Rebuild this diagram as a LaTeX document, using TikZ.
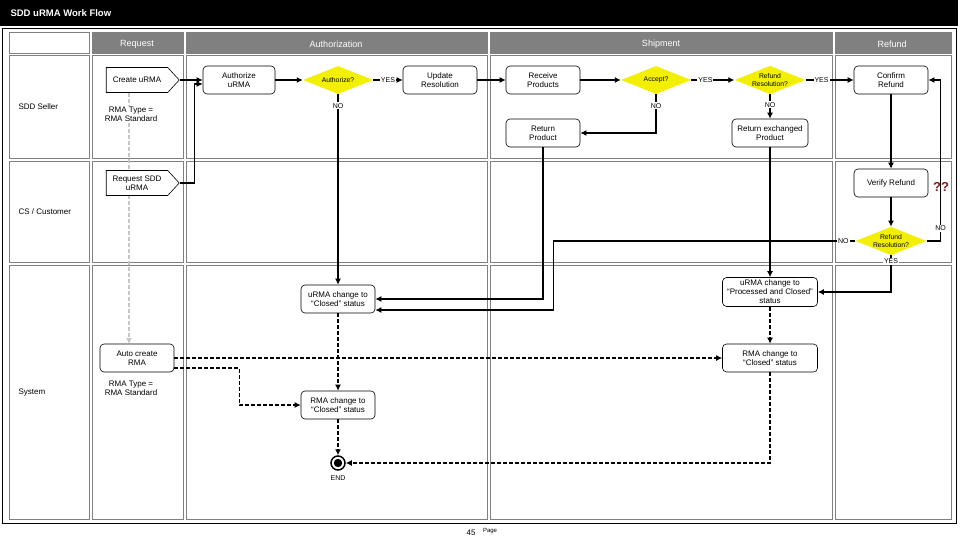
\documentclass[tikz,border=0pt]{standalone}
\usepackage{fontspec}
\setmainfont{Liberation Sans}
\usetikzlibrary{shapes.geometric,shapes.symbols,arrows.meta}
\definecolor{hdrgray}{HTML}{808080}
\definecolor{decyellow}{HTML}{F2F000}
\definecolor{qmark}{HTML}{7F1F1F}

\begin{document}
\begin{tikzpicture}[x=1pt,y=-1pt,
  every node/.style={font=\fontsize{8}{9}\selectfont},
  task/.style={draw,rounded corners=4pt,fill=white,line width=0.6pt,minimum width=74pt,minimum height=28pt,align=center,inner sep=1pt},
  entry/.style={draw,signal,signal to=east,signal pointer angle=95,fill=white,line width=0.6pt,minimum width=73pt,minimum height=25pt,align=center,inner sep=1pt},
  decision/.style={diamond,aspect=2.5,fill=decyellow,minimum width=70pt,minimum height=28pt,inner sep=0.5pt,align=center,font=\fontsize{6.8}{7.6}\selectfont},
  lbl/.style={fill=white,inner sep=1pt,font=\fontsize{7}{8}\selectfont},
  flow/.style={line width=1.4pt,-{Latex[length=6pt,width=6pt]}},
  dflow/.style={flow,dash pattern=on 4pt off 2pt},
  hint/.style={line width=1.4pt,gray!45,dash pattern=on 4pt off 2pt,-{Latex[length=6pt,width=6pt]}},
  cell/.style={draw=hdrgray,line width=0.6pt},
  hdr/.style={cell,fill=hdrgray},
  hdrtext/.style={text=white,font=\fontsize{9}{10}\selectfont}]
\useasboundingbox (0,0) rectangle (960,540);
% title bar and frame
\fill[black] (0,0) rectangle (958,26);
\node[anchor=west,text=white,font=\bfseries\fontsize{9.5}{11}\selectfont] (title) at (7,13) {SDD uRMA Work Flow};
\draw[line width=0.8pt] (2,28) rectangle (956,523);
% swimlane grid
\draw[cell] (9,32) rectangle (89,53);
\foreach \xa/\xb in {92/183,186/487,490/832,835/951}
  \draw[hdr] (\xa,32) rectangle (\xb,53);
\foreach \xa/\xb in {9/89,92/183,186/487,490/832,835/951}
  \foreach \ya/\yb in {55/158,161/262,265/519}
    \draw[cell] (\xa,\ya) rectangle (\xb,\yb);
\node[hdrtext] (hreq) at (137,44) {Request};
\node[hdrtext] (hauth) at (336,44) {Authorization};
\node[hdrtext] (hship) at (661,44) {Shipment};
\node[hdrtext] (hrefund) at (892,44) {Refund};
\node[anchor=west] (seller) at (15,107) {SDD Seller};
\node[anchor=west] (customer) at (15,212) {CS / Customer};
\node[anchor=west] (system) at (15,393) {System};

% nodes
\draw[hint] (129,93) -- (129,344);
\node[entry] (create) at (137,80) {Create uRMA};
\node[fill=white,align=center,inner sep=1pt] (typea) at (131,114) {RMA Type =\\RMA Standard};
\node[entry] (request) at (137,183) {Request SDD\\uRMA};
\node[task,minimum width=72pt] (authz) at (239,80) {Authorize\\uRMA};
\node[decision] (authq) at (338,80) {Authorize?};
\node[task] (update) at (440,80) {Update\\Resolution};
\node[task] (receive) at (543,80) {Receive\\Products};
\node[decision] (accept) at (656,80) {Accept?};
\node[decision] (refq) at (770,80) {Refund\\Resolution?};
\node[task] (confirm) at (891,80) {Confirm\\Refund};
\node[task] (retprod) at (543,133) {Return\\Product};
\node[task,minimum width=76pt] (retexch) at (770,133) {Return exchanged\\Product};
\node[task] (verify) at (891,183) {Verify Refund};
\node[text=qmark,font=\bfseries\fontsize{13}{14}\selectfont] (qq) at (941,187) {??};
\node[decision] (refq2) at (891,241) {Refund\\Resolution?};
\node[task] (urmaclosed) at (338,299) {uRMA change to\\``Closed'' status};
\node[task,minimum width=95pt,minimum height=29pt] (procd) at (770,292) {uRMA change to\\``Processed and Closed''\\status};
\node[task] (autocreate) at (137,358) {Auto create\\RMA};
\node[align=center,inner sep=1pt] (typeb) at (131,388) {RMA Type =\\RMA Standard};
\node[task,minimum width=95pt] (rmaclosed2) at (770,358) {RMA change to\\``Closed'' status};
\node[task] (rmaclosed) at (338,405) {RMA change to\\``Closed'' status};
\node[circle,draw,line width=1.5pt,minimum size=14pt,inner sep=0pt,fill=white,
  path picture={\fill[black] (path picture bounding box.center) circle (4.2pt);}] (finish) at (338,463) {};
\node[font=\fontsize{7}{8}\selectfont] (finishlbl) at (338,478) {END};

% connectors
\draw[flow] (create.east) -- (authz.west);
\draw[flow] (request.east) -- ++(15,0) |- ([yshift=-4pt]authz.west);
\draw[flow] (authz) -- (authq);
\draw[flow] (authq) -- node[lbl] (yes1) {YES} (update);
\draw[flow] (update) -- (receive);
\draw[flow] (receive) -- (accept);
\draw[flow] (accept) -- node[lbl,pos=0.33] (yes2) {YES} (refq);
\draw[flow] (refq) -- node[lbl,pos=0.33] (yes3) {YES} (confirm);
\draw[flow] (confirm) -- (verify);
\draw[flow] (verify) -- (refq2);
\draw[flow] (refq2.east) -- ++(14,0) |- node[lbl,pos=0.04] (no4) {NO} (confirm.east);
\draw[flow] (authq.south) -- node[lbl,pos=0.06] (no1) {NO} (urmaclosed.north);
\draw[flow] (accept.south) |- node[lbl,pos=0.15] (no2) {NO} (retprod.east);
\draw[flow] (refq.south) -- node[lbl,pos=0.42] (no3) {NO} (retexch.north);
\draw[flow] (retprod.south) |- (urmaclosed.east);
\draw[flow] (refq2.west) -- node[lbl,pos=0.04] (no5) {NO} ++(-302,0) |- ([yshift=-11pt]urmaclosed.east);
\draw[flow] (retexch.south) -- (procd.north);
\draw[flow] (refq2.south) |- node[lbl,pos=0.08] (yes4) {YES} (procd.east);
\draw[dflow] (urmaclosed) -- (rmaclosed);
\draw[dflow] (autocreate.east) -- (rmaclosed2.west);
\draw[dflow] ([yshift=-10pt]autocreate.east) -- ++(65,0) |- (rmaclosed.west);
\draw[dflow] (procd) -- (rmaclosed2);
\draw[dflow] (rmaclosed2.south) |- (finish.east);
\draw[dflow] (rmaclosed) -- (finish);

% page number
\node[font=\fontsize{8}{9}\selectfont] (pagenum) at (471,533) {45};
\node[font=\fontsize{6}{7}\selectfont] (pagelbl) at (490,531) {Page};
\end{tikzpicture}
\end{document}
